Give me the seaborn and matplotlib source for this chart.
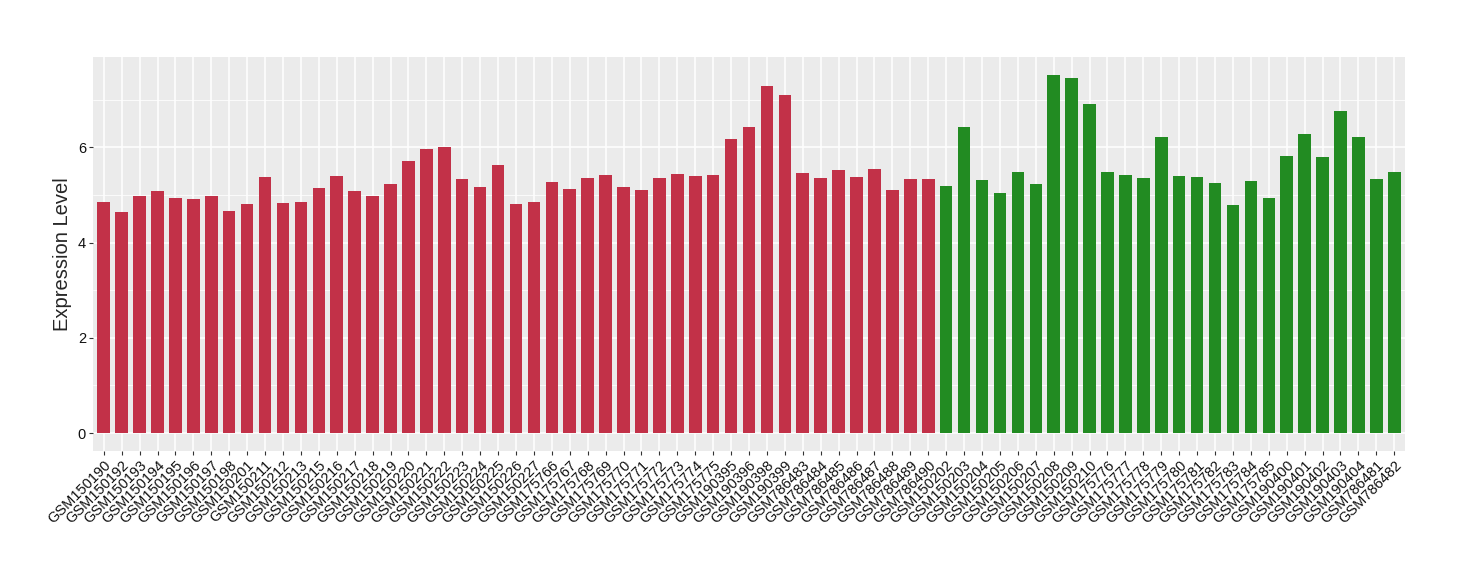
import matplotlib
matplotlib.use("Agg")
import matplotlib.pyplot as plt
import pandas as pd
import seaborn as sns
from matplotlib.ticker import MultipleLocator

# sample ids, split by group
red_samples = [
    "GSM150190", "GSM150192", "GSM150193", "GSM150194", "GSM150195", "GSM150196",
    "GSM150197", "GSM150198", "GSM150201", "GSM150211", "GSM150212", "GSM150213",
    "GSM150215", "GSM150216", "GSM150217", "GSM150218", "GSM150219", "GSM150220",
    "GSM150221", "GSM150222", "GSM150223", "GSM150224", "GSM150225", "GSM150226",
    "GSM150227", "GSM175766", "GSM175767", "GSM175768", "GSM175769", "GSM175770",
    "GSM175771", "GSM175772", "GSM175773", "GSM175774", "GSM175775", "GSM190395",
    "GSM190396", "GSM190398", "GSM190399", "GSM786483", "GSM786484", "GSM786485",
    "GSM786486", "GSM786487", "GSM786488", "GSM786489", "GSM786490",
]
red_values = [
    4.85, 4.64, 4.98, 5.08, 4.94, 4.92, 4.98, 4.67, 4.81, 5.38, 4.83, 4.85,
    5.15, 5.40, 5.08, 4.98, 5.23, 5.71, 5.96, 6.01, 5.34, 5.17, 5.63, 4.81,
    4.85, 5.27, 5.13, 5.36, 5.42, 5.17, 5.11, 5.36, 5.44, 5.40, 5.42, 6.17,
    6.43, 7.29, 7.10, 5.46, 5.36, 5.52, 5.38, 5.55, 5.11, 5.34, 5.34,
]
green_samples = [
    "GSM150202", "GSM150203", "GSM150204", "GSM150205", "GSM150206", "GSM150207",
    "GSM150208", "GSM150209", "GSM150210", "GSM175776", "GSM175777", "GSM175778",
    "GSM175779", "GSM175780", "GSM175781", "GSM175782", "GSM175783", "GSM175784",
    "GSM175785", "GSM190400", "GSM190401", "GSM190402", "GSM190403", "GSM190404",
    "GSM786481", "GSM786482",
]
green_values = [
    5.19, 6.43, 5.32, 5.04, 5.48, 5.23, 7.52, 7.45, 6.91, 5.48, 5.42, 5.36,
    6.22, 5.40, 5.38, 5.25, 4.79, 5.29, 4.94, 5.82, 6.28, 5.80, 6.76, 6.22,
    5.34, 5.48,
]
group_colors = {"red": "#C23148", "green": "#228B22"}

df = pd.DataFrame({
    "sample": red_samples + green_samples,
    "value": red_values + green_values,
    "group": ["red"] * len(red_samples) + ["green"] * len(green_samples),
})

sns.set_theme(style="darkgrid")
plt.rcParams["font.family"] = ["Liberation Sans", "DejaVu Sans"]

fig = plt.figure(figsize=(14.6, 5.8), dpi=100)
ax = fig.add_axes([93 / 1460, 1 - 451 / 580, 1312 / 1460, 394 / 580])

sns.barplot(ax=ax, data=df, x="sample", y="value", hue="group",
            palette=group_colors, width=0.7, dodge=False, legend=False,
            saturation=1, linewidth=0)

# ggplot-ish panel
ax.set_facecolor("#EBEBEB")
for s in ax.spines.values():
    s.set_visible(False)
ax.set_xlim(-0.6, len(df) - 0.4)
ax.set_ylim(-0.376, 7.896)
ax.yaxis.set_major_locator(MultipleLocator(2))
ax.yaxis.set_minor_locator(MultipleLocator(1))
ax.grid(which="major", color="white", linewidth=1.1)
ax.grid(which="minor", axis="y", color="white", linewidth=0.55)
ax.xaxis.grid(True, which="major")
ax.set_axisbelow(True)

ax.tick_params(axis="both", which="major", length=3, width=0.8, color="#333333",
               bottom=True, left=True)
ax.tick_params(axis="y", which="minor", length=0)
ax.tick_params(axis="y", labelsize=10.5, pad=2)
ax.tick_params(axis="x", labelsize=10.5, pad=2)
plt.setp(ax.get_xticklabels(), rotation=45, ha="right", va="top",
         rotation_mode="anchor", color="#111111")
plt.setp(ax.get_yticklabels(), color="#111111")

ax.set_xlabel("")
ax.set_ylabel("Expression Level", fontsize=14.5, labelpad=4)

fig.savefig("out.png", dpi=100)
